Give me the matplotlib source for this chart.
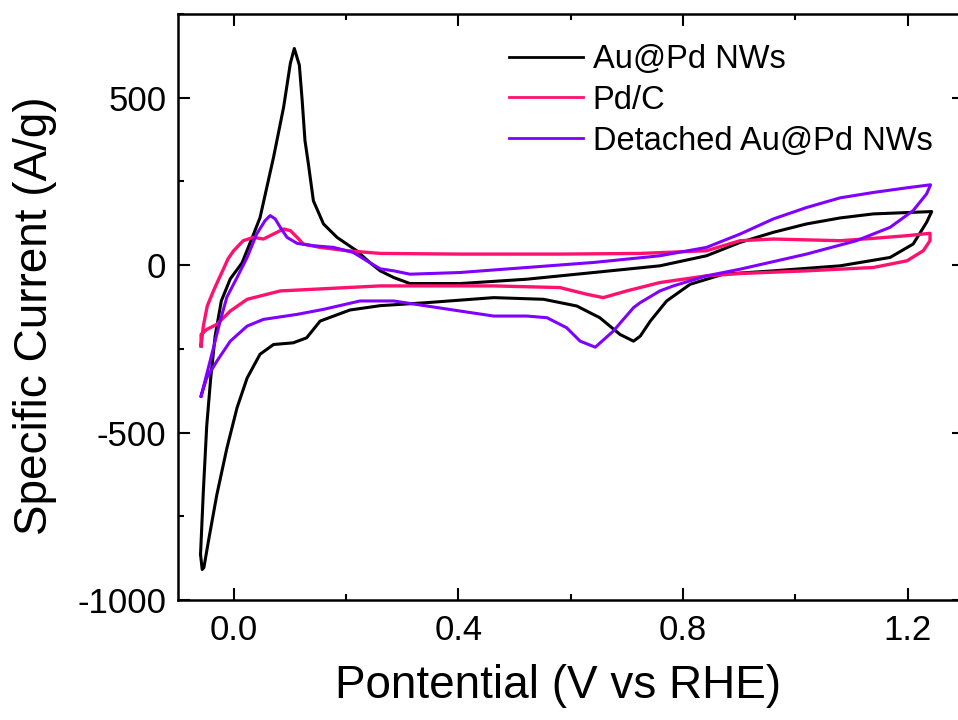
import matplotlib
matplotlib.use("Agg")
import matplotlib.pyplot as plt
from matplotlib.ticker import MultipleLocator

plt.rcParams['font.family'] = ['Liberation Sans', 'DejaVu Sans']

# ---- Data ----
# Au@Pd NWs : closed CV loop (anodic then cathodic)
aupd_v = [-0.059, -0.054, -0.048, -0.041, -0.033, -0.022, -0.006, 0.015, 0.033, 0.047,
          0.071, 0.089, 0.101, 0.108, 0.117, 0.122, 0.127, 0.133, 0.142, 0.160,
          0.184, 0.219, 0.243, 0.261, 0.285, 0.314, 0.403, 0.522, 0.641, 0.759,
          0.842, 0.902, 0.961, 1.020, 1.080, 1.139, 1.199, 1.243,
          1.234, 1.210, 1.169, 1.080, 0.961, 0.872, 0.813, 0.771, 0.742, 0.724,
          0.712, 0.688, 0.652, 0.611, 0.552, 0.463, 0.344, 0.261, 0.207, 0.154,
          0.130, 0.106, 0.071, 0.047, 0.024, 0.006, -0.012, -0.030, -0.045, -0.053,
          -0.056, -0.059]
aupd_i = [-864, -676, -481, -340, -212, -107, -41, 7, 82, 142,
          322, 472, 603, 647, 597, 492, 372, 303, 192, 123,
          83, 43, 7, -17, -37, -55, -55, -42, -22, -2,
          28, 68, 98, 123, 141, 153, 157, 160,
          128, 63, 23, -2, -17, -27, -57, -107, -167, -212,
          -227, -207, -157, -122, -102, -97, -112, -121, -134, -167,
          -217, -232, -237, -266, -337, -426, -546, -686, -825, -903,
          -909, -864]

# Pd/C
pdc_v = [-0.058, -0.054, -0.047, -0.036, -0.028, -0.018, -0.010, 0.000, 0.017, 0.035,
         0.053, 0.071, 0.089, 0.101, 0.113, 0.124, 0.154, 0.202, 0.261, 0.403,
         0.581, 0.724, 0.842, 0.902, 0.961, 1.080, 1.139, 1.199, 1.240,
         1.240, 1.228, 1.199, 1.139, 1.020, 0.902, 0.842, 0.759, 0.700, 0.658,
         0.629, 0.581, 0.463, 0.261, 0.083, 0.024, -0.006, -0.030, -0.048, -0.058,
         -0.058]
pdc_i = [-241, -182, -122, -77, -47, -11, 19, 43, 73, 83,
         78, 93, 108, 103, 83, 63, 53, 43, 35, 33,
         33, 35, 43, 73, 78, 73, 80, 88, 95,
         73, 43, 13, -7, -17, -25, -32, -52, -77, -97,
         -87, -67, -62, -62, -77, -102, -137, -177, -192, -207,
         -241]

# Detached Au@Pd NWs
det_v = [-0.058, -0.048, -0.036, -0.024, -0.012, 0.006, 0.024, 0.041, 0.056, 0.065,
         0.074, 0.083, 0.095, 0.113, 0.142, 0.178, 0.213, 0.237, 0.261, 0.285,
         0.314, 0.403, 0.522, 0.641, 0.759, 0.842, 0.902, 0.961, 1.020, 1.080,
         1.139, 1.199, 1.241,
         1.234, 1.210, 1.169, 1.109, 1.020, 0.902, 0.842, 0.783, 0.759, 0.724,
         0.712, 0.676, 0.644, 0.617, 0.593, 0.558, 0.522, 0.463, 0.403, 0.344,
         0.285, 0.225, 0.160, 0.113, 0.053, 0.024, -0.006, -0.030, -0.048, -0.058]
det_i = [-391, -326, -247, -167, -95, -37, 23, 93, 133, 148,
         138, 113, 83, 65, 58, 53, 38, 13, -11, -17,
         -27, -22, -7, 8, 28, 53, 93, 138, 172, 201,
         217, 231, 240,
         213, 163, 113, 73, 33, -12, -32, -62, -77, -112,
         -127, -197, -245, -227, -187, -157, -152, -152, -137, -122,
         -107, -107, -132, -147, -162, -182, -227, -287, -337, -391]

labels = ["Au@Pd NWs", "Pd/C", "Detached Au@Pd NWs"]
colors = ["#000000", "#FF1170", "#8000FF"]

W, H = 958, 720
fig = plt.figure(figsize=(W / 100, H / 100), dpi=100)
ax = fig.add_axes([177.5 / W, (H - 600) / H, (963.7 - 177.5) / W, (600 - 14) / H])

ax.plot(aupd_v, aupd_i, color=colors[0], lw=2.2, label=labels[0], solid_joinstyle='round')
ax.plot(pdc_v, pdc_i, color=colors[1], lw=2.4, label=labels[1], solid_joinstyle='round')
ax.plot(det_v, det_i, color=colors[2], lw=2.2, label=labels[2], solid_joinstyle='round')

ax.set_xlim(-0.1, 1.3)
ax.set_ylim(-1000, 750)
ax.xaxis.set_minor_locator(MultipleLocator(0.2))
ax.yaxis.set_minor_locator(MultipleLocator(250))
ax.set_xticks([0.0, 0.4, 0.8, 1.2])
ax.set_xticklabels(["0.0", "0.4", "0.8", "1.2"])
ax.set_yticks([-1000, -500, 0, 500])
ax.set_yticklabels(["-1000", "-500", "0", "500"])

for s in ax.spines.values():
    s.set_linewidth(1.8)
ax.tick_params(which='both', direction='in', top=True, right=True, width=1.5)
ax.tick_params(which='major', length=8.5, labelsize=25)
ax.tick_params(which='minor', length=4.3)
ax.tick_params(axis='x', which='major', pad=10)
ax.tick_params(axis='y', which='major', pad=8)

ax.set_xlabel("Pontential (V vs RHE)", fontsize=33)
ax.set_ylabel("Specific Current (A/g)", fontsize=33)
ax.xaxis.set_label_coords((558 - 177.5) / 786.2, -0.109)
ax.yaxis.set_label_coords((57 - 177.5) / 786.2, 0.485)

leg = ax.legend(loc='upper left', bbox_to_anchor=(509 / W, 1 - 44 / H),
                bbox_transform=fig.transFigure, frameon=False, fontsize=23.5,
                handlelength=2.26, handletextpad=0.3, labelspacing=0.3,
                borderpad=0, borderaxespad=0)
for line in leg.get_lines():
    line.set_linewidth(2.0)

fig.savefig("out.png", dpi=100)
